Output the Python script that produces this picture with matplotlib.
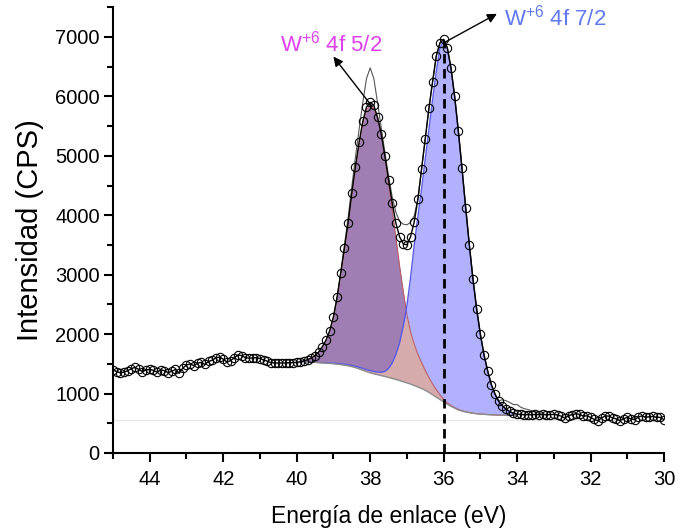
import matplotlib
matplotlib.use("Agg")
import matplotlib.pyplot as plt
import numpy as np
from matplotlib import rcParams
from matplotlib.ticker import MultipleLocator

rcParams["font.family"] = ["Liberation Sans", "DejaVu Sans"]
rcParams["font.size"] = 14.5

# W 4f scan, 0.1 eV step from 45 eV down to 30 eV
energy = np.linspace(45.0, 30.0, 151)
counts = [
    1400, 1370, 1350, 1360, 1385, 1420, 1440, 1405, 1370, 1395,
    1410, 1390, 1360, 1400, 1385, 1350, 1375, 1405, 1340, 1430,
    1480, 1500, 1470, 1510, 1525, 1490, 1540, 1560, 1600, 1615,
    1580, 1530, 1555, 1600, 1650, 1640, 1605, 1595, 1600, 1605,
    1590, 1565, 1545, 1520, 1515, 1515, 1515, 1515, 1518, 1520,
    1525, 1535, 1550, 1570, 1600, 1640, 1700, 1790, 1900, 2060,
    2290, 2620, 3030, 3450, 3870, 4370, 4820, 5230, 5580, 5820,
    5900, 5850, 5650, 5370, 5000, 4600, 4210, 3870, 3640, 3520,
    3500, 3640, 3890, 4270, 4780, 5290, 5800, 6250, 6680, 6900,
    6960, 6820, 6480, 6000, 5420, 4790, 4130, 3500, 2920, 2420,
    2000, 1650, 1380, 1150, 990, 870, 795, 740, 700, 670,
    655, 650, 645, 645, 645, 650, 645, 650, 645, 645,
    650, 640, 620, 585, 630, 645, 660, 650, 620, 625,
    600, 565, 545, 590, 625, 620, 590, 575, 545, 575,
    600, 575, 560, 605, 625, 600, 610, 615, 600, 600,
    560,
]

# second trace (thin grey), 39.0 -> 33.3 eV
trace_energy = np.linspace(39.0, 33.3, 58)
trace_counts = [
    2290, 2620, 3040, 3500, 3960, 4480, 4980, 5450, 5900, 6300,
    6480, 6300, 5900, 5480, 5060, 4660, 4310, 4050, 3900, 3850,
    3840, 3880, 3990, 4280, 4780, 5290, 5800, 6250, 6680, 6900,
    6960, 6820, 6480, 6000, 5420, 4790, 4130, 3500, 2920, 2420,
    2000, 1650, 1380, 1150, 990, 880, 895, 880, 850, 815,
    815, 770, 745, 730, 712, 698, 665, 650,
]

# fit region, 39.9 -> 34.0 eV
fit_energy = np.linspace(39.9, 34.0, 60)
shirley_bg = [
    1537, 1535, 1530, 1527, 1524, 1520, 1516, 1512, 1507, 1502,
    1495, 1487, 1478, 1467, 1453, 1436, 1415, 1392, 1370, 1350,
    1333, 1318, 1303, 1288, 1272, 1255, 1238, 1220, 1200, 1180,
    1160, 1135, 1110, 1085, 1055, 1020, 980, 940, 900, 860,
    820, 785, 755, 725, 705, 690, 678, 668, 660, 655,
    650, 646, 643, 640, 638, 636, 635, 634, 633, 632,
]
peak_52 = [
    1540, 1550, 1568, 1598, 1638, 1698, 1785, 1895, 2050, 2275,
    2600, 3000, 3420, 3850, 4340, 4800, 5200, 5540, 5770, 5850,
    5800, 5640, 5400, 5000, 4560, 4100, 3620, 3150, 2720, 2330,
    2040, 1830, 1660, 1520, 1390, 1270, 1160, 1065, 980, 905,
    845, 800, 765, 735, 712, 695, 682, 671, 663, 657,
    652, 647, 644, 641, 638, 636, 635, 634, 633, 632,
]
peak_72 = [
    1539, 1537, 1533, 1530, 1527, 1524, 1521, 1518, 1514, 1510,
    1505, 1499, 1492, 1484, 1473, 1459, 1442, 1422, 1403, 1386,
    1372, 1362, 1358, 1372, 1420, 1515, 1660, 1850, 2130, 2480,
    2950, 3500, 3980, 4450, 4950, 5450, 5950, 6420, 6820, 6930,
    6800, 6470, 5990, 5410, 4780, 4120, 3490, 2910, 2410, 1990,
    1640, 1370, 1140, 980, 860, 785, 730, 690, 662, 645,
]

baseline_level = 555
peak_72_position = 36.0
peak_72_top = 6930


def plot_components(ax):
    bg = np.array(shirley_bg)
    p1 = np.array(peak_52)
    p2 = np.array(peak_72)
    overlap = np.minimum(p1, p2)
    ax.fill_between(fit_energy, bg, overlap, color="#d6abab", lw=0, zorder=1)
    ax.fill_between(fit_energy, overlap, p1, color="#a07db2", lw=0, zorder=1)
    ax.fill_between(fit_energy, overlap, p2, color="#b1b1fd", lw=0, zorder=1)
    ax.plot(fit_energy, p1, c="#b8606a", lw=0.8, zorder=2)
    ax.plot(fit_energy, p2, c="#5a5ae8", lw=1.0, zorder=2)
    ax.plot(fit_energy, bg, c="#8c8c8c", lw=1.0, zorder=2)


def plot_spectrum(ax):
    ax.axhline(baseline_level, c="#e8e8e8", lw=1, zorder=0)
    ax.plot(trace_energy, trace_counts, c="#555555", lw=0.8, zorder=3)
    ax.plot(energy, counts, c="black", lw=1.0, marker="o", ms=6,
            mfc="none", mec="black", mew=0.8, zorder=4)
    ax.vlines(peak_72_position, 0, peak_72_top, colors="black", lw=2,
              linestyles=(0, (3.4, 2.0)), zorder=5)


def add_labels(ax):
    arrow = dict(arrowstyle="-|>", color="black", lw=1, mutation_scale=14,
                 shrinkA=0, shrinkB=0)
    ax.annotate("", xy=(39.0, 6670), xytext=(37.96, 5840), arrowprops=arrow, zorder=6)
    ax.annotate("", xy=(34.55, 7390), xytext=(36.0, 6900), arrowprops=arrow, zorder=6)
    ax.text(40.45, 6750, r"W$^{\mathregular{+6}}$ 4f 5/2", color="#e040f0",
            fontsize=16, ha="left", va="baseline")
    ax.text(34.35, 7190, r"W$^{\mathregular{+6}}$ 4f 7/2", color="#6078f0",
            fontsize=16, ha="left", va="baseline")


def format_axes(ax):
    ax.set_xlim(45, 30)
    ax.set_ylim(0, 7500)
    ax.xaxis.set_major_locator(MultipleLocator(2))
    ax.xaxis.set_minor_locator(MultipleLocator(1))
    ax.yaxis.set_major_locator(MultipleLocator(1000))
    ax.yaxis.set_minor_locator(MultipleLocator(500))
    for side in ("top", "right"):
        ax.spines[side].set_visible(False)
    for side in ("left", "bottom"):
        ax.spines[side].set_linewidth(1.5)
    ax.tick_params(which="major", length=6.5, width=1.5)
    ax.tick_params(which="minor", length=4, width=1.5)
    ax.tick_params(axis="x", which="major", pad=6)
    ax.tick_params(axis="y", which="major", pad=3)
    ax.set_xlabel("Energía de enlace (eV)", fontsize=16.5, labelpad=11)
    ax.set_ylabel("Intensidad (CPS)", fontsize=21, labelpad=8)


fig = plt.figure(figsize=(6.78, 5.31), dpi=100)
ax = fig.add_axes([0.1667, 0.1469, 0.8127, 0.8394])

plot_components(ax)
plot_spectrum(ax)
add_labels(ax)
format_axes(ax)

fig.savefig("out.png", dpi=100)
